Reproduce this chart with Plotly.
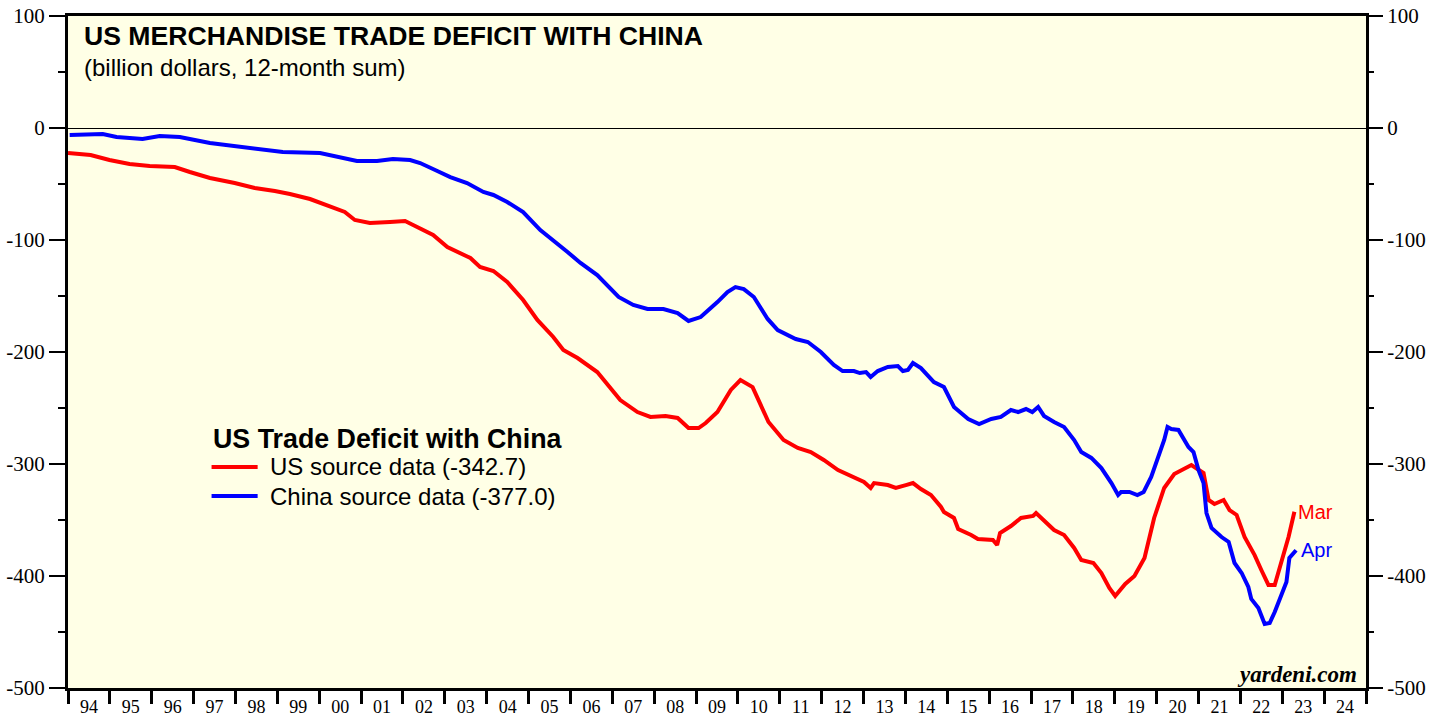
import plotly.graph_objects as go

# ---- data (decimal year, billion dollars, 12-month sum) ----
us_years = [1994.00, 1994.54, 1994.99, 1995.47, 1995.95, 1996.55, 1996.91, 1997.39, 1997.98, 1998.46,
            1998.94, 1999.30, 1999.78, 2000.26, 2000.61, 2000.85, 2001.21, 2001.69, 2002.05, 2002.29,
            2002.72, 2003.06, 2003.61, 2003.84, 2004.16, 2004.49, 2004.87, 2005.21, 2005.59, 2005.83,
            2006.17, 2006.64, 2006.95, 2007.19, 2007.60, 2007.91, 2008.27, 2008.56, 2008.82, 2009.06,
            2009.23, 2009.51, 2009.83, 2010.06, 2010.35, 2010.50, 2010.73, 2011.09, 2011.43, 2011.74,
            2012.05, 2012.39, 2012.65, 2013.01, 2013.17, 2013.25, 2013.58, 2013.77, 2014.01, 2014.18,
            2014.37, 2014.61, 2014.85, 2014.92, 2015.16, 2015.26, 2015.57, 2015.73, 2016.09, 2016.19,
            2016.26, 2016.52, 2016.76, 2017.05, 2017.12, 2017.55, 2017.79, 2018.03, 2018.20, 2018.49,
            2018.68, 2018.87, 2019.01, 2019.25, 2019.47, 2019.71, 2019.94, 2020.18, 2020.42, 2020.59,
            2020.83, 2021.12, 2021.24, 2021.38, 2021.60, 2021.74, 2021.91, 2022.10, 2022.34, 2022.50,
            2022.67, 2022.82, 2022.98, 2023.15, 2023.29]
us_values = [-22.3, -24.1, -28.6, -32.1, -33.9, -34.8, -39.3, -44.6, -49.1, -53.6,
             -56.3, -58.9, -63.4, -69.6, -75.0, -82.1, -84.8, -83.9, -83.0, -87.5,
             -95.5, -106.3, -116.1, -124.1, -127.7, -137.5, -153.6, -171.4, -186.6, -198.2,
             -205.4, -217.9, -232.1, -242.9, -253.6, -258.0, -257.1, -258.9, -267.9, -267.9,
             -263.4, -253.6, -233.9, -225.0, -231.3, -242.9, -262.5, -278.6, -285.7, -289.3,
             -296.4, -305.4, -309.8, -316.1, -321.4, -317.0, -318.8, -321.4, -318.8, -317.0,
             -322.3, -327.7, -338.4, -342.9, -348.2, -358.0, -363.4, -367.0, -367.9, -372.3,
             -361.6, -355.4, -348.2, -346.4, -343.8, -358.9, -363.4, -375.0, -385.7, -388.4,
             -397.3, -410.7, -417.9, -407.1, -400.0, -383.9, -348.2, -321.4, -308.9, -305.4,
             -300.9, -308.0, -332.1, -335.7, -332.1, -341.1, -345.5, -365.2, -381.3, -394.6,
             -408.0, -408.0, -387.5, -365.2, -342.7]

cn_years = [1994.04, 1994.83, 1995.16, 1995.78, 1996.19, 1996.67, 1997.39, 1998.17, 1998.75, 1999.13,
            2000.02, 2000.90, 2001.38, 2001.76, 2002.17, 2002.41, 2002.82, 2003.13, 2003.53, 2003.92,
            2004.16, 2004.49, 2004.87, 2005.28, 2005.93, 2006.24, 2006.64, 2006.95, 2007.15, 2007.50,
            2007.84, 2008.22, 2008.56, 2008.82, 2009.11, 2009.51, 2009.75, 2009.94, 2010.14, 2010.38,
            2010.71, 2010.95, 2011.26, 2011.38, 2011.67, 2011.98, 2012.29, 2012.50, 2012.77, 2012.91,
            2013.06, 2013.17, 2013.34, 2013.58, 2013.82, 2013.94, 2014.06, 2014.18, 2014.37, 2014.68,
            2014.92, 2015.16, 2015.50, 2015.76, 2016.05, 2016.28, 2016.52, 2016.69, 2016.88, 2017.03,
            2017.17, 2017.31, 2017.55, 2017.79, 2018.03, 2018.20, 2018.44, 2018.68, 2018.92, 2019.08,
            2019.15, 2019.35, 2019.54, 2019.69, 2019.87, 2020.06, 2020.18, 2020.26, 2020.35, 2020.52,
            2020.76, 2020.88, 2021.00, 2021.12, 2021.19, 2021.31, 2021.55, 2021.72, 2021.86, 2022.03,
            2022.19, 2022.26, 2022.43, 2022.58, 2022.70, 2022.82, 2023.03, 2023.10, 2023.17, 2023.33]
cn_values = [-6.3, -5.4, -8.0, -9.8, -7.1, -8.0, -13.4, -17.0, -20.5, -21.4,
             -22.3, -29.5, -29.5, -27.7, -28.6, -31.3, -38.4, -43.8, -49.1, -57.1,
             -59.8, -66.1, -75.0, -91.1, -110.7, -120.5, -131.3, -142.9, -150.9, -158.0,
             -161.6, -161.6, -165.2, -172.3, -168.8, -155.4, -146.4, -142.0, -143.8, -150.9,
             -170.5, -180.4, -185.7, -188.4, -191.1, -200.0, -211.6, -217.0, -217.0, -218.8,
             -217.9, -222.3, -217.0, -213.4, -212.5, -217.0, -216.1, -209.8, -214.3, -226.8,
             -231.3, -249.1, -259.8, -264.3, -259.8, -258.0, -251.8, -253.6, -250.9, -253.6,
             -249.1, -257.1, -262.5, -267.0, -278.6, -289.3, -294.6, -303.6, -317.0, -327.7,
             -325.0, -325.0, -327.7, -325.0, -311.6, -292.0, -278.6, -267.0, -268.8, -269.6,
             -284.8, -289.3, -305.4, -317.0, -343.8, -357.1, -365.2, -369.6, -388.4, -397.3,
             -409.8, -420.5, -428.6, -442.9, -442.0, -432.1, -412.5, -405.4, -383.9, -377.0]

year_label_pos = [y + 0.5 for y in range(1994, 2025)]
year_labels = ["%02d" % (y % 100) for y in range(1994, 2025)]
y_tick_vals = [100, 0, -100, -200, -300, -400, -500]
y_tick_text = ["100", "0", "-100", "-200", "-300", "-400", "-500"]

RED = "#FF0000"
BLUE = "#0000FF"
SERIF = "Liberation Serif, Times New Roman, serif"
SANS = "Liberation Sans, Arial, sans-serif"

fig = go.Figure()
fig.add_trace(go.Scatter(x=us_years, y=us_values, mode="lines", name="US source data",
                         line=dict(color=RED, width=4), showlegend=False))
fig.add_trace(go.Scatter(x=cn_years, y=cn_values, mode="lines", name="China source data",
                         line=dict(color=BLUE, width=4), showlegend=False))
fig.add_trace(go.Scatter(x=[], y=[], yaxis="y2", showlegend=False))

yaxis_common = dict(range=[-500, 100], tickmode="array", tickvals=y_tick_vals, ticktext=y_tick_text,
                    ticks="outside", ticklen=16, tickwidth=1.5, tickcolor="black",
                    minor=dict(ticks="outside", ticklen=7, tickwidth=1.5, tickcolor="black",
                               tick0=-500, dtick=50),
                    showgrid=False, tickfont=dict(family=SERIF, size=21, color="black"),
                    automargin=False, fixedrange=True)

fig.update_layout(
    width=1442, height=717,
    margin=dict(l=68, r=76, t=16, b=29),
    paper_bgcolor="white", plot_bgcolor="#FFFFE6",
    xaxis=dict(range=[1994, 2025], tickmode="array", tickvals=year_label_pos, ticktext=year_labels,
               ticks="outside", ticklen=0, tickcolor="rgba(0,0,0,0)",
               minor=dict(ticks="outside", ticklen=13, tickwidth=2.5, tickcolor="black",
                          tick0=1994, dtick=1),
               showline=True, linewidth=3, linecolor="black", mirror=True,
               showgrid=False, zeroline=False, automargin=False, fixedrange=True,
               tickfont=dict(family=SERIF, size=18, color="black")),
    yaxis=dict(**yaxis_common, showline=True, linewidth=3, linecolor="black", mirror=True,
               zeroline=True, zerolinecolor="black", zerolinewidth=1),
    yaxis2=dict(**yaxis_common, overlaying="y", side="right", zeroline=False, showline=False),
)

ann = []
ann.append(dict(x=0.011, y=0.970, xref="paper", yref="paper", xanchor="left", yanchor="middle",
                text="<b>US MERCHANDISE TRADE DEFICIT WITH CHINA</b>", showarrow=False,
                font=dict(family=SANS, size=26.6, color="black")))
ann.append(dict(x=0.011, y=0.924, xref="paper", yref="paper", xanchor="left", yanchor="middle",
                text="(billion dollars, 12-month sum)", showarrow=False,
                font=dict(family=SANS, size=24, color="black")))
ann.append(dict(x=0.110, y=0.3705, xref="paper", yref="paper", xanchor="left", yanchor="middle",
                text="<b>US Trade Deficit with China</b>", showarrow=False,
                font=dict(family=SANS, size=26.8, color="black")))
ann.append(dict(x=0.154, y=0.3289, xref="paper", yref="paper", xanchor="left", yanchor="middle",
                text="US source data (%.1f)" % us_values[-1], showarrow=False,
                font=dict(family=SANS, size=24, color="black")))
ann.append(dict(x=0.154, y=0.2857, xref="paper", yref="paper", xanchor="left", yanchor="middle",
                text="China source data (%.1f)" % cn_values[-1], showarrow=False,
                font=dict(family=SANS, size=24, color="black")))
ann.append(dict(x=0.9946, y=0.0208, xref="paper", yref="paper", xanchor="right", yanchor="middle",
                text="<b><i>yardeni.com</i></b>", showarrow=False,
                font=dict(family=SERIF, size=23, color="black")))
ann.append(dict(x=us_years[-1] + 0.05, y=us_values[-1], xref="x", yref="y", xanchor="left",
                yanchor="middle", text="Mar", showarrow=False,
                font=dict(family=SANS, size=20, color=RED)))
ann.append(dict(x=cn_years[-1] + 0.08, y=cn_values[-1], xref="x", yref="y", xanchor="left",
                yanchor="middle", text="Apr", showarrow=False,
                font=dict(family=SANS, size=20, color=BLUE)))
fig.update_layout(annotations=ann)

fig.add_shape(type="line", xref="paper", yref="paper", x0=0.1106, x1=0.1461, y0=0.3289, y1=0.3289,
              line=dict(color=RED, width=4))
fig.add_shape(type="line", xref="paper", yref="paper", x0=0.1106, x1=0.1461, y0=0.2857, y1=0.2857,
              line=dict(color=BLUE, width=4))

fig.write_html("out.html", config={"displayModeBar": False},
               post_script="document.body.style.margin='0';")
